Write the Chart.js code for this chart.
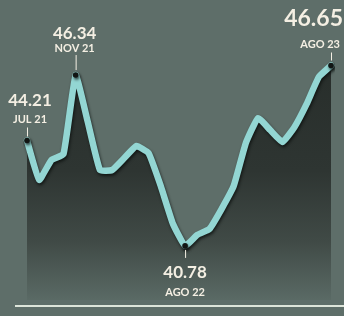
<!DOCTYPE html>
<html>
<head>
<meta charset="utf-8">
<script src="https://cdn.jsdelivr.net/npm/chart.js@4/dist/chart.umd.min.js"></script>
<style>
  html, body { margin: 0; padding: 0; background: #5e6e69; }
  #wrap { width: 344px; height: 316px; position: relative; }
</style>
</head>
<body>
<div id="wrap"><canvas id="c" width="344" height="316"></canvas></div>
<script>
const months = ['JUL 21','AGO 21','SEP 21','OCT 21','NOV 21','DIC 21','ENE 22','FEB 22','MAR 22','ABR 22','MAY 22','JUN 22','JUL 22','AGO 22','SEP 22','OCT 22','NOV 22','DIC 22','ENE 23','FEB 23','MAR 23','ABR 23','MAY 23','JUN 23','JUL 23','AGO 23'];
const values = [44.21,42.93,43.57,43.77,46.34,44.81,43.25,43.25,43.64,44.03,43.80,42.73,41.50,40.78,41.14,41.33,41.98,42.73,44.13,44.94,44.55,44.16,44.65,45.40,46.28,46.65];
const highlighted = [0, 4, 13, 25];
const yMin = 39.02;
const yMax = 47.48;

const BG = '#5e6e69';
const LINE = '#93d6d3';
const TEXT = '#f4efe3';
const FONT = 'Lato, "DejaVu Sans", sans-serif';

const labelStyle = {
  0:  { dx: 3,  valueSize: 17, monthSize: 11, above: true,  gapTick: [4, 13], valueBase: 34, monthBase: 17, align: 'center' },
  4:  { dx: -1, valueSize: 17, monthSize: 11, above: true,  gapTick: [5, 20], valueBase: 36, monthBase: 23, align: 'center' },
  13: { dx: 0,  valueSize: 17, monthSize: 11, above: false, gapTick: [4, 12], valueBase: 32, monthBase: 50, align: 'center' },
  25: { dx: 12, valueSize: 23, monthSize: 11, above: true,  gapTick: [5, 13], valueBase: 40, monthBase: 18, align: 'right' }
};

const shadowPlugin = {
  id: 'lineShadow',
  beforeDatasetDraw(chart) {
    const ctx = chart.ctx;
    ctx.save();
    ctx.shadowColor = 'rgba(10,14,12,0.75)';
    ctx.shadowBlur = 3;
    ctx.shadowOffsetX = 1;
    ctx.shadowOffsetY = 2;
  },
  afterDatasetDraw(chart) {
    chart.ctx.restore();
  }
};

const labelPlugin = {
  id: 'pointLabels',
  afterDraw(chart) {
    const ctx = chart.ctx;
    const meta = chart.getDatasetMeta(0);
    const area = chart.chartArea;
    ctx.save();
    ctx.strokeStyle = '#dde5da';
    ctx.lineWidth = 2;
    ctx.beginPath();
    ctx.moveTo(area.left - 12, area.bottom + 6);
    ctx.lineTo(chart.width, area.bottom + 6);
    ctx.stroke();

    highlighted.forEach(i => {
      const pt = meta.data[i];
      const s = labelStyle[i];
      const x = pt.x, y = pt.y;
      const dir = s.above ? -1 : 1;
      ctx.strokeStyle = TEXT;
      ctx.lineWidth = 1;
      ctx.beginPath();
      ctx.moveTo(x + 0.5, y + dir * s.gapTick[0]);
      ctx.lineTo(x + 0.5, y + dir * s.gapTick[1]);
      ctx.stroke();
      ctx.fillStyle = TEXT;
      ctx.textAlign = s.align;
      ctx.textBaseline = 'alphabetic';
      ctx.font = 'bold ' + s.valueSize + 'px ' + FONT;
      ctx.fillText(values[i].toFixed(2), x + s.dx, y + dir * s.valueBase);
      ctx.font = 'bold ' + s.monthSize + 'px ' + FONT;
      ctx.fillText(months[i], x + s.dx - (s.align === 'right' ? 3 : 0), y + dir * s.monthBase);
    });
    ctx.restore();
  }
};

new Chart(document.getElementById('c'), {
  type: 'line',
  data: {
    labels: months,
    datasets: [{
      data: values,
      borderColor: LINE,
      borderWidth: 6.5,
      borderJoinStyle: 'round',
      borderCapStyle: 'round',
      tension: 0.12,
      pointRadius: values.map((v, i) => highlighted.includes(i) ? 2.8 : 0),
      pointBackgroundColor: '#111513',
      pointBorderWidth: 0,
      fill: 'start',
      backgroundColor: (c) => {
        const area = c.chart.chartArea;
        if (!area) return '#2c3330';
        const g = c.chart.ctx.createLinearGradient(0, area.top + 25, 0, area.bottom);
        g.addColorStop(0, '#282e2b');
        g.addColorStop(0.45, '#2e3532');
        g.addColorStop(0.75, '#404a46');
        g.addColorStop(1, '#5a6a65');
        return g;
      }
    }]
  },
  options: {
    responsive: false,
    animation: false,
    layout: { padding: { left: 27, right: 13, top: 40, bottom: 16 }, autoPadding: false },
    plugins: { legend: { display: false }, tooltip: { enabled: false } },
    scales: {
      x: { display: false, offset: false },
      y: { display: false, min: yMin, max: yMax }
    }
  },
  plugins: [shadowPlugin, labelPlugin]
});
</script>
</body>
</html>
